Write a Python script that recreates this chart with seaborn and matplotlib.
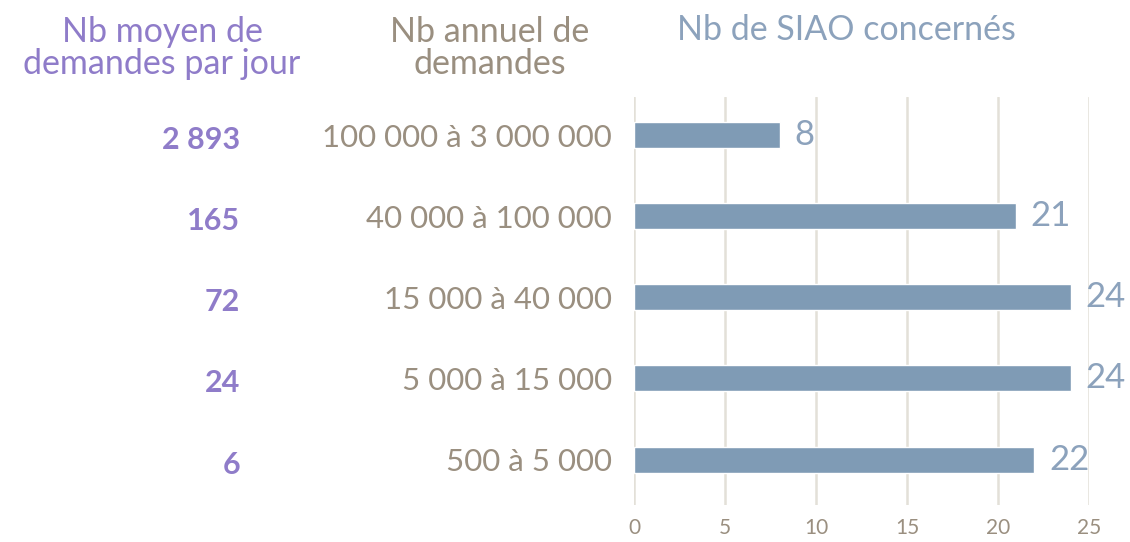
import matplotlib
matplotlib.use("Agg")
import matplotlib.pyplot as plt
import matplotlib.transforms as mtransforms
import seaborn as sns
import pandas as pd

categories = ["100 000 à 3 000 000", "40 000 à 100 000", "15 000 à 40 000",
              "5 000 à 15 000", "500 à 5 000"]
nb_siao = [8, 21, 24, 24, 22]
daily = ["2 893", "165", "72", "24", "6"]
xticks = [0, 5, 10, 15, 20, 25]

BAR = "#7F9BB5"
PURPLE = "#8F7CC9"
BROWN = "#9A8F80"
BLUE_T = "#8CA2BC"
GRID = "#E3E0D8"

sns.set_theme(style="white")
plt.rcParams['font.family'] = ['Lato', 'DejaVu Sans']

fig = plt.figure(figsize=(11.3, 5.42), dpi=100)
ax = fig.add_axes([634/1130, 37/542, (1089-634)/1130, 408/542])

df = pd.DataFrame({"cat": categories, "val": nb_siao})
sns.barplot(data=df, x="val", y="cat", orient="h", color=BAR, width=0.32,
            saturation=1, ax=ax, zorder=3)

ax.set_xlim(0, 25)
ax.set_ylim(4.56, -0.47)
ax.set_xticks(xticks)
ax.set_xlabel("")
ax.set_ylabel("")
for s in ax.spines.values():
    s.set_visible(False)
ax.grid(axis="x", color=GRID, linewidth=1.8, zorder=0)
ax.tick_params(axis="x", length=0, pad=9, labelsize=15, labelcolor=BROWN)
ax.tick_params(axis="y", length=0, pad=16, labelsize=22.5, labelcolor=BROWN)

for i, v in enumerate(nb_siao):
    ax.text(v + 0.8, i, str(v), va="center", ha="left", fontsize=25,
            color=BLUE_T, clip_on=False)

trans = mtransforms.blended_transform_factory(fig.transFigure, ax.transData)
trans = trans + mtransforms.ScaledTranslation(0, -5/100, fig.dpi_scale_trans)
for i, d in enumerate(daily):
    fig.text(240/1130, i, d, transform=trans, ha="right", va="center",
             fontsize=22, fontweight="bold", color=PURPLE)

fig.text(162/1130, 1 - 48/542, "Nb moyen de\ndemandes par jour", ha="center",
         va="center", fontsize=24.5, color=PURPLE, linespacing=1.0)
fig.text(490/1130, 1 - 48/542, "Nb annuel de\ndemandes", ha="center",
         va="center", fontsize=24.5, color=BROWN, linespacing=1.0)
fig.text(846/1130, 1 - 30/542, "Nb de SIAO concernés", ha="center",
         va="center", fontsize=24.5, color=BLUE_T)

fig.savefig("out.png", dpi=100)
